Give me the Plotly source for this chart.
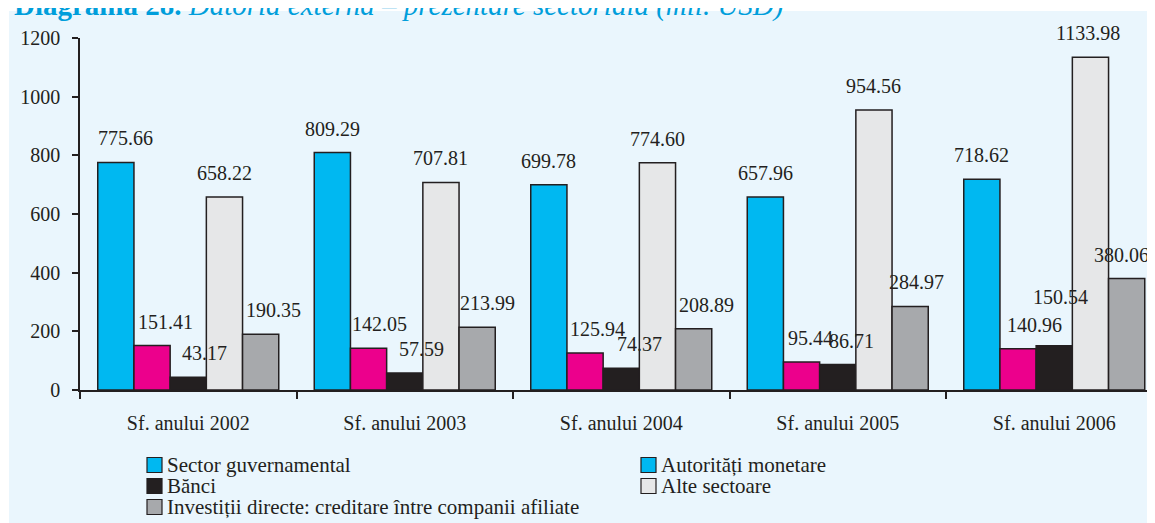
import plotly.graph_objects as go

# data (mil. USD)
categories = ["Sf. anului 2002", "Sf. anului 2003", "Sf. anului 2004", "Sf. anului 2005", "Sf. anului 2006"]
sector_guvernamental = [775.66, 809.29, 699.78, 657.96, 718.62]
autoritati_monetare = [151.41, 142.05, 125.94, 95.44, 140.96]
banci = [43.17, 57.59, 74.37, 86.71, 150.54]
alte_sectoare = [658.22, 707.81, 774.60, 954.56, 1133.98]
investitii_directe = [190.35, 213.99, 208.89, 284.97, 380.06]
y_ticks = [0, 200, 400, 600, 800, 1000, 1200]

series_names = ["Sector guvernamental", "Autorități monetare", "Bănci", "Alte sectoare",
                "Investiții directe: creditare între companii afiliate"]
series_values = [sector_guvernamental, autoritati_monetare, banci, alte_sectoare, investitii_directe]
bar_colors = ["#00B8F1", "#EC008C", "#231F20", "#E6E7E8", "#A7A9AC"]
# the original legend shows the monetary authorities box in cyan too
legend_colors = ["#00B8F1", "#00B8F1", "#231F20", "#E6E7E8", "#A7A9AC"]

# how far (px) each value label sits right of its bar centre, as in the original
label_dx = [
    [10, 0, 0, 0, 0],
    [13, 11, 12, 9, 16],
    [16, 17, 18, 14, 6],
    [0, 0, 0, 0, -2],
    [13, 10, 13, 6, -5],
]

TEXT = "#231F20"
PANEL = "#EAF6FD"
FONT = "Liberation Serif"

# the page body has an 8px margin, so the figure starts at (8, 8) in the window
OFF = 8
W, H = 1155 - OFF, 523 - OFF
ML, MT = 80 - OFF, 38 - OFF
MB = H - (390 - OFF)
BARGAP = 0.164
plot_w = W - ML
plot_h = H - MT - MB


def px_x(px):
    # window pixel -> paper x
    return (px - OFF - ML) / plot_w


def px_y(py):
    # window pixel -> paper y
    return (H - MB - (py - OFF)) / plot_h


fig = go.Figure()

for name, vals, col in zip(series_names, series_values, bar_colors):
    fig.add_trace(go.Bar(
        x=categories, y=vals, name=name, showlegend=False,
        marker=dict(color=col, line=dict(color=TEXT, width=1.5)),
    ))

# value labels above each bar
bw = (1 - BARGAP) / len(series_values)
for j, vals in enumerate(series_values):
    for i, v in enumerate(vals):
        fig.add_annotation(
            x=i + (j - 2) * bw, y=v, xref="x", yref="y",
            text=f"{v:.2f}", showarrow=False,
            xshift=label_dx[j][i], yshift=49 if (j == 2 and i == 4) else 24,
            font=dict(family=FONT, size=20, color=TEXT),
        )

# light blue panel behind the chart
fig.add_shape(type="rect", xref="paper", yref="paper",
              x0=px_x(9), x1=px_x(1160), y0=px_y(530), y1=px_y(11),
              fillcolor=PANEL, line_width=0, layer="below")

# title, cut off at the top like in the original page
fig.add_annotation(
    xref="paper", yref="paper", x=px_x(12), y=px_y(5),
    xanchor="left", yanchor="middle", showarrow=False,
    text="<b>Diagrama 28.</b> <i>Datoria externă – prezentare sectorială (mil. USD)</i>",
    font=dict(family=FONT, size=29, color="#009EDB"),
)

# legend in two columns, drawn by hand so the layout matches
legend_pos = [(147, 465), (641, 465), (147, 486), (641, 486), (147, 507)]
for name, col, (lx, ly) in zip(series_names, legend_colors, legend_pos):
    fig.add_shape(type="rect", xref="paper", yref="paper",
                  x0=px_x(lx), x1=px_x(lx + 15), y0=px_y(ly + 7.5), y1=px_y(ly - 7.5),
                  fillcolor=col, line=dict(color=TEXT, width=1.2))
    fig.add_annotation(
        xref="paper", yref="paper", x=px_x(lx + 18), y=px_y(ly),
        xanchor="left", yanchor="middle", showarrow=False, text=name,
        font=dict(family=FONT, size=21, color=TEXT),
    )

fig.update_layout(
    width=W, height=H,
    margin=dict(l=ML, r=0, t=MT, b=MB),
    paper_bgcolor="white",
    plot_bgcolor="rgba(0,0,0,0)",
    barmode="group", bargap=BARGAP, bargroupgap=0,
    font=dict(family=FONT, size=20, color=TEXT),
    showlegend=False,
)
fig.update_xaxes(
    range=[-0.5, -0.5 + plot_w / 216.5],
    showline=True, linecolor=TEXT, linewidth=1.5,
    ticks="outside", tickson="boundaries", ticklen=7, tickcolor=TEXT, tickwidth=1.5,
    ticklabelstandoff=14, showgrid=False, zeroline=False,
    tickfont=dict(family=FONT, size=20, color=TEXT),
)
fig.update_yaxes(
    range=[0, 1200], tickvals=y_ticks,
    showline=True, linecolor=TEXT, linewidth=1.5,
    ticks="outside", ticklen=6, tickcolor=TEXT, tickwidth=1.5,
    ticklabelstandoff=8, showgrid=False, zeroline=False,
    tickfont=dict(family=FONT, size=20, color=TEXT),
)

fig.write_html("out.html")
